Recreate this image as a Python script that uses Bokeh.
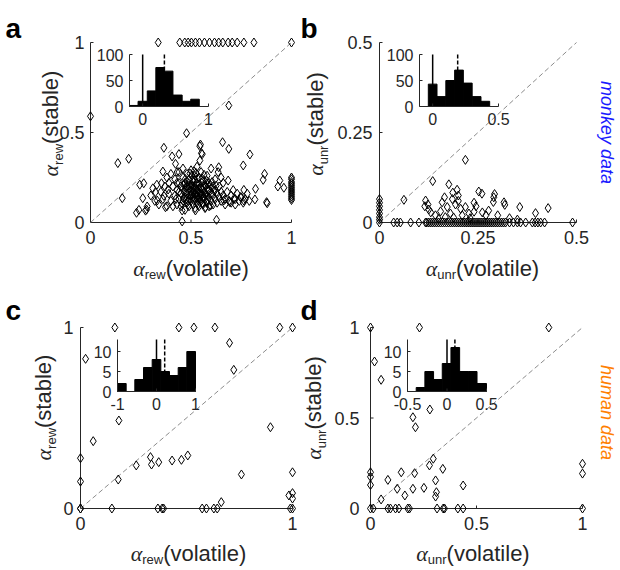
import math
from bokeh.plotting import figure
from bokeh.models import Range1d, Label
from bokeh.layouts import row, column
from bokeh.embed import file_html
from bokeh.resources import INLINE
from bokeh.core.properties import value

# ================= DATA =================
# ---- panel a : monkey, alpha_rew (volatile vs stable)
A_POINTS = [
    (0.337, 1), (0.444, 1), (0.469, 1), (0.486, 1), (0.502, 1), (0.522, 1), (0.542, 1),
    (0.567, 1), (0.592, 1), (0.617, 1), (0.638, 1), (0.658, 1), (0.685, 1), (0.705, 1),
    (0.730, 1), (0.763, 1), (0.813, 1), (1.0, 1),
    (0.0, 0.59), (0.688, 0.65), (0.478, 0.496), (0.365, 0.415), (0.544, 0.424), (0.657, 0.446),
    (0.688, 0.409), (0.44, 0.38), (0.793, 0.378), (0.136, 0.33), (0.19, 0.354), (0.556, 0.38),
    (0.76, 0.317), (0.638, 0.307), (0.879, 0.107), (0.456, 0.006), (0.627, 0.015), (0.158, 0.135),
    (0.229, 0.054), (0.241, 0.07), (0.274, 0.066), (0.265, 0.218), (0.245, 0.21), (0.26, 0.135),
    (0.282, 0.089), (0.279, 0.072), (0.323, 0.169), (0.353, 0.218), (0.332, 0.122), (0.373, 0.085),
    (0.365, 0.148), (0.386, 0.183), (0.36, 0.283), (0.406, 0.367), (0.423, 0.326), (0.431, 0.28),
    (0.456, 0.067), (0.547, 0.433), (0.552, 0.385), (0.544, 0.344), (0.635, 0.28), (0.65, 0.25),
    (0.685, 0.233), (0.746, 0.141), (0.763, 0.122), (0.713, 0.131), (0.693, 0.113), (0.663, 0.122),
    (0.522, 0.067), (0.572, 0.085), (0.597, 0.094), (0.866, 0.27), (0.859, 0.237), (0.821, 0.187),
    (0.818, 0.128), (0.876, 0.113), (0.763, 0.181), (0.942, 0.233), (0.932, 0.2), (0.962, 0.193),
    (1.0, 0.125), (1.0, 0.135), (1.0, 0.145), (1.0, 0.155), (1.0, 0.165), (1.0, 0.175), (1.0, 0.185),
    (1.0, 0.195), (1.0, 0.205), (1.0, 0.215), (1.0, 0.225), (1.0, 0.24), (1.0, 0.25),
    (0.30, 0.15), (0.31, 0.19), (0.32, 0.12), (0.33, 0.21), (0.34, 0.10), (0.35, 0.17), (0.36, 0.13),
    (0.37, 0.20), (0.38, 0.09), (0.38, 0.25), (0.39, 0.16), (0.40, 0.27), (0.41, 0.09), (0.39, 0.22),
    (0.40, 0.12), (0.41, 0.20), (0.42, 0.15), (0.42, 0.24), (0.43, 0.10), (0.43, 0.18), (0.44, 0.13),
    (0.44, 0.22), (0.44, 0.28), (0.45, 0.09), (0.45, 0.16), (0.45, 0.20), (0.46, 0.12), (0.46, 0.25),
    (0.46, 0.30), (0.47, 0.07), (0.47, 0.14), (0.47, 0.18), (0.47, 0.22), (0.48, 0.11), (0.48, 0.16),
    (0.48, 0.20), (0.48, 0.27), (0.49, 0.09), (0.49, 0.13), (0.49, 0.19), (0.49, 0.24), (0.50, 0.12),
    (0.50, 0.15), (0.50, 0.17), (0.50, 0.21), (0.50, 0.29), (0.51, 0.10), (0.51, 0.14), (0.51, 0.19),
    (0.51, 0.23), (0.52, 0.08), (0.52, 0.13), (0.52, 0.16), (0.52, 0.20), (0.52, 0.26), (0.53, 0.11),
    (0.53, 0.15), (0.53, 0.18), (0.53, 0.22), (0.53, 0.31), (0.54, 0.09), (0.54, 0.14), (0.54, 0.17),
    (0.54, 0.21), (0.54, 0.25), (0.55, 0.12), (0.55, 0.16), (0.55, 0.19), (0.55, 0.28), (0.56, 0.10),
    (0.56, 0.14), (0.56, 0.18), (0.56, 0.23), (0.57, 0.08), (0.57, 0.13), (0.57, 0.16), (0.57, 0.21),
    (0.58, 0.11), (0.58, 0.15), (0.58, 0.19), (0.58, 0.26), (0.59, 0.09), (0.59, 0.14), (0.59, 0.18),
    (0.59, 0.22), (0.60, 0.12), (0.60, 0.16), (0.60, 0.30), (0.61, 0.10), (0.61, 0.15), (0.61, 0.20),
    (0.62, 0.13), (0.62, 0.18), (0.62, 0.24), (0.63, 0.11), (0.63, 0.16), (0.64, 0.14), (0.64, 0.20),
    (0.65, 0.12), (0.65, 0.17), (0.66, 0.15), (0.66, 0.22), (0.67, 0.13), (0.67, 0.10), (0.68, 0.17),
    (0.69, 0.12), (0.70, 0.15), (0.70, 0.11), (0.71, 0.18), (0.72, 0.13), (0.72, 0.10), (0.73, 0.16),
    (0.74, 0.12), (0.75, 0.14), (0.76, 0.11), (0.77, 0.13), (0.78, 0.16), (0.79, 0.12),
    (0.455, 0.105), (0.462, 0.135), (0.468, 0.165), (0.474, 0.195), (0.481, 0.225), (0.487, 0.118),
    (0.493, 0.148), (0.498, 0.178), (0.503, 0.208), (0.508, 0.238), (0.513, 0.125), (0.518, 0.155),
    (0.523, 0.185), (0.528, 0.215), (0.533, 0.245), (0.538, 0.132), (0.543, 0.162), (0.548, 0.192),
    (0.553, 0.222), (0.558, 0.105), (0.563, 0.142), (0.568, 0.172), (0.573, 0.202), (0.578, 0.232),
    (0.583, 0.128), (0.466, 0.212), (0.472, 0.242), (0.485, 0.098), (0.495, 0.272), (0.505, 0.262),
    (0.515, 0.285), (0.525, 0.275), (0.535, 0.098), (0.545, 0.112), (0.555, 0.245), (0.565, 0.265),
    (0.575, 0.115), (0.585, 0.175), (0.595, 0.205), (0.605, 0.225), (0.615, 0.175), (0.625, 0.205),
    (0.458, 0.185), (0.476, 0.128), (0.502, 0.192), (0.512, 0.172), (0.527, 0.138), (0.537, 0.188),
    (0.552, 0.152), (0.562, 0.198), (0.49, 0.205), (0.499, 0.155), (0.52, 0.235), (0.53, 0.165),
    (0.547, 0.142), (0.572, 0.152), (0.582, 0.212), (0.44, 0.17), (0.43, 0.22), (0.425, 0.13),
]
A_VOL = [pt[0] for pt in A_POINTS]
A_STA = [pt[1] for pt in A_POINTS]
A_LIM = [0, 1]
A_TICKS = [0, 0.5, 1]
A_EDGES = [-0.2, -0.07, 0.07, 0.2, 0.33, 0.46, 0.6, 0.73, 0.86]
A_COUNTS = [2, 10, 30, 75, 68, 22, 10, 14]
A_MEDIAN = 0.33
A_IN_XLIM = [-0.2, 1.0]
A_IN_YLIM = [0, 100]
A_IN_XTICKS = [0, 1]
A_IN_YTICKS = [0, 50, 100]

# ---- panel b : monkey, alpha_unr
B_POINTS = [
    (0, 0), (0, 0.008), (0, 0.015), (0, 0.025), (0, 0.035), (0, 0.045), (0, 0.055), (0, 0.065),
    (0.036, 0), (0.045, 0), (0.053, 0), (0.079, 0), (0.10, 0), (0.117, 0), (0.12, 0), (0.125, 0),
    (0.13, 0), (0.135, 0), (0.14, 0), (0.145, 0), (0.15, 0), (0.155, 0), (0.16, 0), (0.165, 0),
    (0.17, 0), (0.175, 0), (0.18, 0), (0.185, 0), (0.19, 0), (0.195, 0), (0.20, 0), (0.205, 0),
    (0.21, 0), (0.215, 0), (0.22, 0), (0.225, 0), (0.23, 0), (0.235, 0), (0.24, 0), (0.245, 0),
    (0.25, 0), (0.255, 0), (0.26, 0), (0.265, 0), (0.27, 0), (0.275, 0), (0.28, 0), (0.285, 0),
    (0.29, 0), (0.295, 0), (0.30, 0), (0.305, 0), (0.31, 0), (0.315, 0), (0.32, 0), (0.33, 0),
    (0.34, 0), (0.35, 0), (0.358, 0), (0.371, 0), (0.388, 0), (0.395, 0), (0.402, 0), (0.409, 0),
    (0.419, 0), (0.49, 0),
    (0.218, 0.174), (0.135, 0.115), (0.062, 0.063), (0.176, 0.106), (0.197, 0.091), (0.186, 0.083),
    (0.20, 0.075), (0.252, 0.086), (0.117, 0.061), (0.123, 0.05), (0.115, 0.045), (0.125, 0.036),
    (0.159, 0.056), (0.172, 0.043), (0.155, 0.031), (0.18, 0.025), (0.193, 0.05), (0.206, 0.038),
    (0.218, 0.043), (0.227, 0.025), (0.142, 0.02), (0.167, 0.015), (0.188, 0.014), (0.26, 0.08),
    (0.292, 0.079), (0.29, 0.07), (0.289, 0.057), (0.316, 0.056), (0.318, 0.049), (0.356, 0.043),
    (0.428, 0.04), (0.396, 0.026), (0.277, 0.033), (0.261, 0.028), (0.27, 0.02), (0.24, 0.03),
    (0.23, 0.012), (0.21, 0.02), (0.15, 0.01), (0.13, 0.028), (0.20, 0.06), (0.185, 0.065),
    (0.165, 0.07), (0.24, 0.055), (0.245, 0.045), (0.30, 0.02), (0.33, 0.012), (0.35, 0.008),
]
B_VOL = [pt[0] for pt in B_POINTS]
B_STA = [pt[1] for pt in B_POINTS]
B_LIM = [0, 0.5]
B_TICKS = [0, 0.25, 0.5]
B_EDGES = [-0.033, 0.033, 0.1, 0.167, 0.233, 0.3, 0.367, 0.433]
B_COUNTS = [43, 19, 50, 70, 45, 19, 10]
B_MEDIAN = 0.19
B_IN_XLIM = [-0.1, 0.5]
B_IN_YLIM = [0, 100]
B_IN_XTICKS = [0, 0.5]
B_IN_YTICKS = [0, 50, 100]

# ---- panel c : human, alpha_rew
C_POINTS = [
    (0.162, 1), (0.464, 1), (0.535, 1), (0.634, 1), (0.94, 1), (1.0, 1),
    (0.024, 0.827), (0.703, 0.915), (0.723, 0.766), (0.181, 0.486), (0.06, 0.372), (0.896, 0.449),
    (0.0, 0.278), (0.0, 0.149), (0.178, 0.16), (0.263, 0.238), (0.33, 0.284), (0.335, 0.243),
    (0.369, 0.256), (0.432, 0.265), (0.476, 0.269), (0.506, 0.293), (0.759, 0.188), (1.0, 0.2),
    (1.0, 0.085), (0.983, 0.072), (1.0, 0.055), (0.664, 0.035),
    (0, 0), (0, 0), (0.148, 0), (0.365, 0), (0.385, 0), (0.392, 0), (0.574, 0), (0.594, 0),
    (0.629, 0), (0.645, 0), (1.0, 0), (0.99, 0),
]
C_VOL = [pt[0] for pt in C_POINTS]
C_STA = [pt[1] for pt in C_POINTS]
C_LIM = [0, 1]
C_TICKS = [0, 1]
C_EDGES = [-1, -0.778, -0.556, -0.333, -0.111, 0.111, 0.333, 0.556, 0.778, 1]
C_COUNTS = [2, 0, 3, 6, 8, 5, 4, 6, 10]
C_MEDIAN = 0.21
C_IN_XLIM = [-1, 1]
C_IN_YLIM = [0, 13]
C_IN_XTICKS = [-1, 0, 1]
C_IN_YTICKS = [0, 5, 10]

# ---- panel d : human, alpha_unr
D_POINTS = [
    (0, 1), (0.231, 1), (0.841, 1), (0.019, 0.812), (0.05, 0.711), (0.28, 0.547), (0.2, 0.504),
    (0.212, 0.449), (0, 0.2), (0, 0.175), (0, 0.13), (0.082, 0.158), (0.145, 0.2), (0.126, 0.109),
    (0.05, 0.05), (0.162, 0.072), (0.2, 0.109), (0.208, 0.195), (0.252, 0.114), (0.278, 0.238),
    (0.296, 0.275), (0.307, 0.155), (0.311, 0.09), (0.307, 0.066), (0.341, 0.219), (0.437, 0.127),
    (1.0, 0.247), (1.0, 0.193),
    (0, 0), (0.013, 0), (0.082, 0), (0.094, 0), (0.118, 0), (0.134, 0), (0.176, 0), (0.184, 0),
    (0.314, 0), (0.343, 0), (0.349, 0), (0.412, 0), (0.437, 0), (1.0, 0),
]
D_VOL = [pt[0] for pt in D_POINTS]
D_STA = [pt[1] for pt in D_POINTS]
D_LIM = [0, 1]
D_TICKS = [0, 0.5, 1]
D_EDGES = [-0.39, -0.28, -0.17, -0.06, 0.05, 0.16, 0.27, 0.38, 0.5]
D_COUNTS = [1, 5, 3, 7, 11, 5, 5, 2]
D_MEDIAN = 0.1
D_IN_XLIM = [-0.5, 0.5]
D_IN_YLIM = [0, 13]
D_IN_XTICKS = [-0.5, 0, 0.5]
D_IN_YTICKS = [0, 5, 10]

# ================= STYLE / LAYOUT =================
SANS = "Liberation Sans"
SERIF = "Liberation Serif"
INK = "#262626"
CW = {"(": .333, ")": .333, "v": .5, "o": .556, "l": .222, "a": .556, "t": .278, "i": .222,
      "e": .556, "s": .5, "b": .556, "r": .333, "w": .722, "u": .556, "n": .556}
LAB = 22
SUB = 13
ALPHA_W = 0.52


def tw(s, size):
    return sum(CW[c] for c in s) * size


def fmt(t):
    return f"{t:g}"


def panel(geom, xs, ys, lim, ticks, edges, counts, median, in_xlim, in_ylim, in_xticks,
          in_yticks, in_geom, sub, letter, side=None):
    fl, ft, W, H = geom["fig"]
    px0, px1 = geom["px"]
    py0, py1 = geom["py"]
    sx = (px1 - px0) / (lim[1] - lim[0])
    sy = (py0 - py1) / (lim[1] - lim[0])

    def DX(X):
        return lim[0] + (X - px0) / sx

    def DY(Y):
        return lim[0] + (py0 - Y) / sy

    p = figure(width=W, height=H,
               x_range=Range1d(DX(fl), DX(fl + W)), y_range=Range1d(DY(ft + H), DY(ft)),
               x_axis_location=None, y_axis_location=None, min_border=0,
               output_backend="svg", toolbar_location=None)
    p.grid.visible = False
    p.outline_line_color = None
    p.background_fill_color = "white"
    p.border_fill_color = "white"

    # ---- main axes (drawn with the plot's own scales)
    nt = len(ticks)
    p.segment(x0=[lim[0], lim[0]], y0=[lim[0], lim[0]], x1=[lim[1], lim[0]], y1=[lim[0], lim[1]],
              line_color=INK, line_width=1)
    p.segment(x0=ticks, y0=[lim[0]] * nt, x1=ticks, y1=[lim[0] + 3 / sy] * nt,
              line_color=INK, line_width=1)
    p.segment(x0=[lim[0]] * nt, y0=ticks, x1=[lim[0] + 3 / sx] * nt, y1=ticks,
              line_color=INK, line_width=1)
    p.text(x=ticks, y=[lim[0]] * nt, text=[fmt(t) for t in ticks], text_align="center",
           text_baseline="top", y_offset=8, text_font=value(SANS), text_font_size="18px",
           text_color=INK)
    p.text(x=[lim[0]] * nt, y=ticks, text=[fmt(t) for t in ticks], text_align="right",
           text_baseline="middle", x_offset=-geom["ystand"], text_font=value(SANS),
           text_font_size="18px", text_color=INK)

    # identity line
    p.line(lim, lim, line_color="#8c8c8c", line_dash="5 3", line_width=1)

    # ---- inset histogram
    ipx0, ipx1 = in_geom["px"]
    ipy0, ipy1 = in_geom["py"]
    yref = in_geom["yref"]
    isx = (ipx1 - ipx0) / (in_xlim[1] - in_xlim[0])
    isy = (ipy0 - ipy1) / (yref[1] - yref[0])
    p.extra_x_ranges = {"ix": Range1d(in_xlim[0] - (ipx0 - fl) / isx,
                                      in_xlim[0] + (fl + W - ipx0) / isx)}
    p.extra_y_ranges = {"iy": Range1d(yref[0] - (ft + H - ipy0) / isy,
                                      yref[0] + (ipy0 - ft) / isy)}
    kw = dict(x_range_name="ix", y_range_name="iy")
    p.segment(x0=[0], y0=[in_ylim[0]], x1=[0], y1=[in_ylim[1]], line_color="black",
              line_width=1.5, **kw)
    p.segment(x0=[median], y0=[in_ylim[0]], x1=[median], y1=[in_ylim[1]], line_color="black",
              line_width=1.5, line_dash="4 2", **kw)
    p.quad(left=edges[:-1], right=edges[1:], bottom=[0] * len(counts), top=counts,
           fill_color="black", line_color="black", line_width=1, **kw)
    p.segment(x0=[in_xlim[0], in_xlim[0]], y0=[in_ylim[0], in_ylim[0]],
              x1=[in_xlim[1], in_xlim[0]], y1=[in_ylim[0], in_ylim[1]],
              line_color=INK, line_width=1, **kw)
    n, m = len(in_xticks), len(in_yticks)
    p.segment(x0=in_xticks, y0=[in_ylim[0]] * n, x1=in_xticks, y1=[in_ylim[0] + 3 / isy] * n,
              line_color=INK, line_width=1, **kw)
    p.segment(x0=[in_xlim[0]] * m, y0=in_yticks, x1=[in_xlim[0] + 3 / isx] * m, y1=in_yticks,
              line_color=INK, line_width=1, **kw)
    p.text(x=in_xticks, y=[in_ylim[0]] * n, text=[fmt(t) for t in in_xticks],
           text_align="center", text_baseline="top", y_offset=6, text_font=value(SANS),
           text_font_size="16px", text_color=INK, **kw)
    p.text(x=[in_xlim[0]] * m, y=in_yticks, text=[fmt(t) for t in in_yticks],
           text_align="right", text_baseline="middle", x_offset=-6, text_font=value(SANS),
           text_font_size="16px", text_color=INK, **kw)

    # ---- scatter
    p.scatter(xs, ys, marker="diamond", size=9, line_color="black", line_width=1,
              fill_color=None)

    def lab(X, Y, text, size, font=SANS, style="normal", color=INK, angle=0,
            align="left", baseline="alphabetic"):
        p.add_layout(Label(x=DX(X), y=DY(Y), text=text, text_font=font,
                           text_font_size=f"{size}px", text_font_style=style,
                           text_color=color, angle=angle, text_align=align,
                           text_baseline=baseline))

    # x label
    wa, ws = ALPHA_W * LAB, tw(sub, SUB)
    wx = tw("(volatile)", LAB)
    cx, bx = geom["xlab"]
    x0 = cx - (wa + ws + wx) / 2
    lab(x0, bx, "α", LAB, font=SERIF, style="italic")
    lab(x0 + wa, bx + 6, sub, SUB)
    lab(x0 + wa + ws, bx, "(volatile)", LAB)
    # y label (rotated; every piece centred on its own middle)
    wy = tw("(stable)", LAB)
    cy, by = geom["ylab"]
    y0 = cy + (wa + ws + wy) / 2
    r = math.pi / 2
    lab(by, y0 - wa / 2, "α", LAB, font=SERIF, style="italic", angle=r,
        align="center", baseline="middle")
    lab(by + 8, y0 - wa - ws / 2, sub, SUB, angle=r, align="center", baseline="middle")
    lab(by, y0 - wa - ws - wy / 2, "(stable)", LAB, angle=r, align="center",
        baseline="middle")
    # panel letter
    lx, ly = geom["letter"]
    lab(lx, ly, letter, 28, style="bold", color="black")
    if side is not None:
        txt, col, sy_c = side
        lab(606, sy_c, txt, 18, style="italic", color=col, angle=-r, align="center",
            baseline="middle")
    return p


GA = dict(fig=(0, 0, 300, 288), px=(90, 291), py=(222, 42), ystand=6,
          xlab=(190.5, 268), ylab=(123, 50), letter=(5, 28))
GB = dict(fig=(300, 0, 316, 288), px=(379, 576), py=(222, 42), ystand=7,
          xlab=(482, 268), ylab=(123.5, 315), letter=(300, 28))
GC = dict(fig=(0, 288, 300, 278), px=(80, 292), py=(508, 327), ystand=7,
          xlab=(188, 553), ylab=(407, 43), letter=(5, 310))
GD = dict(fig=(300, 288, 316, 278), px=(370, 582), py=(508, 327), ystand=11,
          xlab=(472.5, 553), ylab=(407.5, 313), letter=(300, 310))

IA = dict(px=(129, 208), py=(106, 54), yref=(0, 100))
IB = dict(px=(419, 498), py=(106, 54), yref=(0, 100))
IC = dict(px=(117, 195), py=(391, 351), yref=(0, 10))
ID = dict(px=(407, 486), py=(391, 351), yref=(0, 10))

pa = panel(GA, A_VOL, A_STA, A_LIM, A_TICKS, A_EDGES, A_COUNTS, A_MEDIAN, A_IN_XLIM,
           A_IN_YLIM, A_IN_XTICKS, A_IN_YTICKS, IA, "rew", "a")
pb = panel(GB, B_VOL, B_STA, B_LIM, B_TICKS, B_EDGES, B_COUNTS, B_MEDIAN, B_IN_XLIM,
           B_IN_YLIM, B_IN_XTICKS, B_IN_YTICKS, IB, "unr", "b",
           side=("monkey data", "#1a1aff", 132))
pc = panel(GC, C_VOL, C_STA, C_LIM, C_TICKS, C_EDGES, C_COUNTS, C_MEDIAN, C_IN_XLIM,
           C_IN_YLIM, C_IN_XTICKS, C_IN_YTICKS, IC, "rew", "c")
pd_ = panel(GD, D_VOL, D_STA, D_LIM, D_TICKS, D_EDGES, D_COUNTS, D_MEDIAN, D_IN_XLIM,
            D_IN_YLIM, D_IN_XTICKS, D_IN_YTICKS, ID, "unr", "d",
            side=("human data", "#ff8000", 412))

layout = column(row(pa, pb), row(pc, pd_))
open("out.html", "w").write(file_html(layout, INLINE))
